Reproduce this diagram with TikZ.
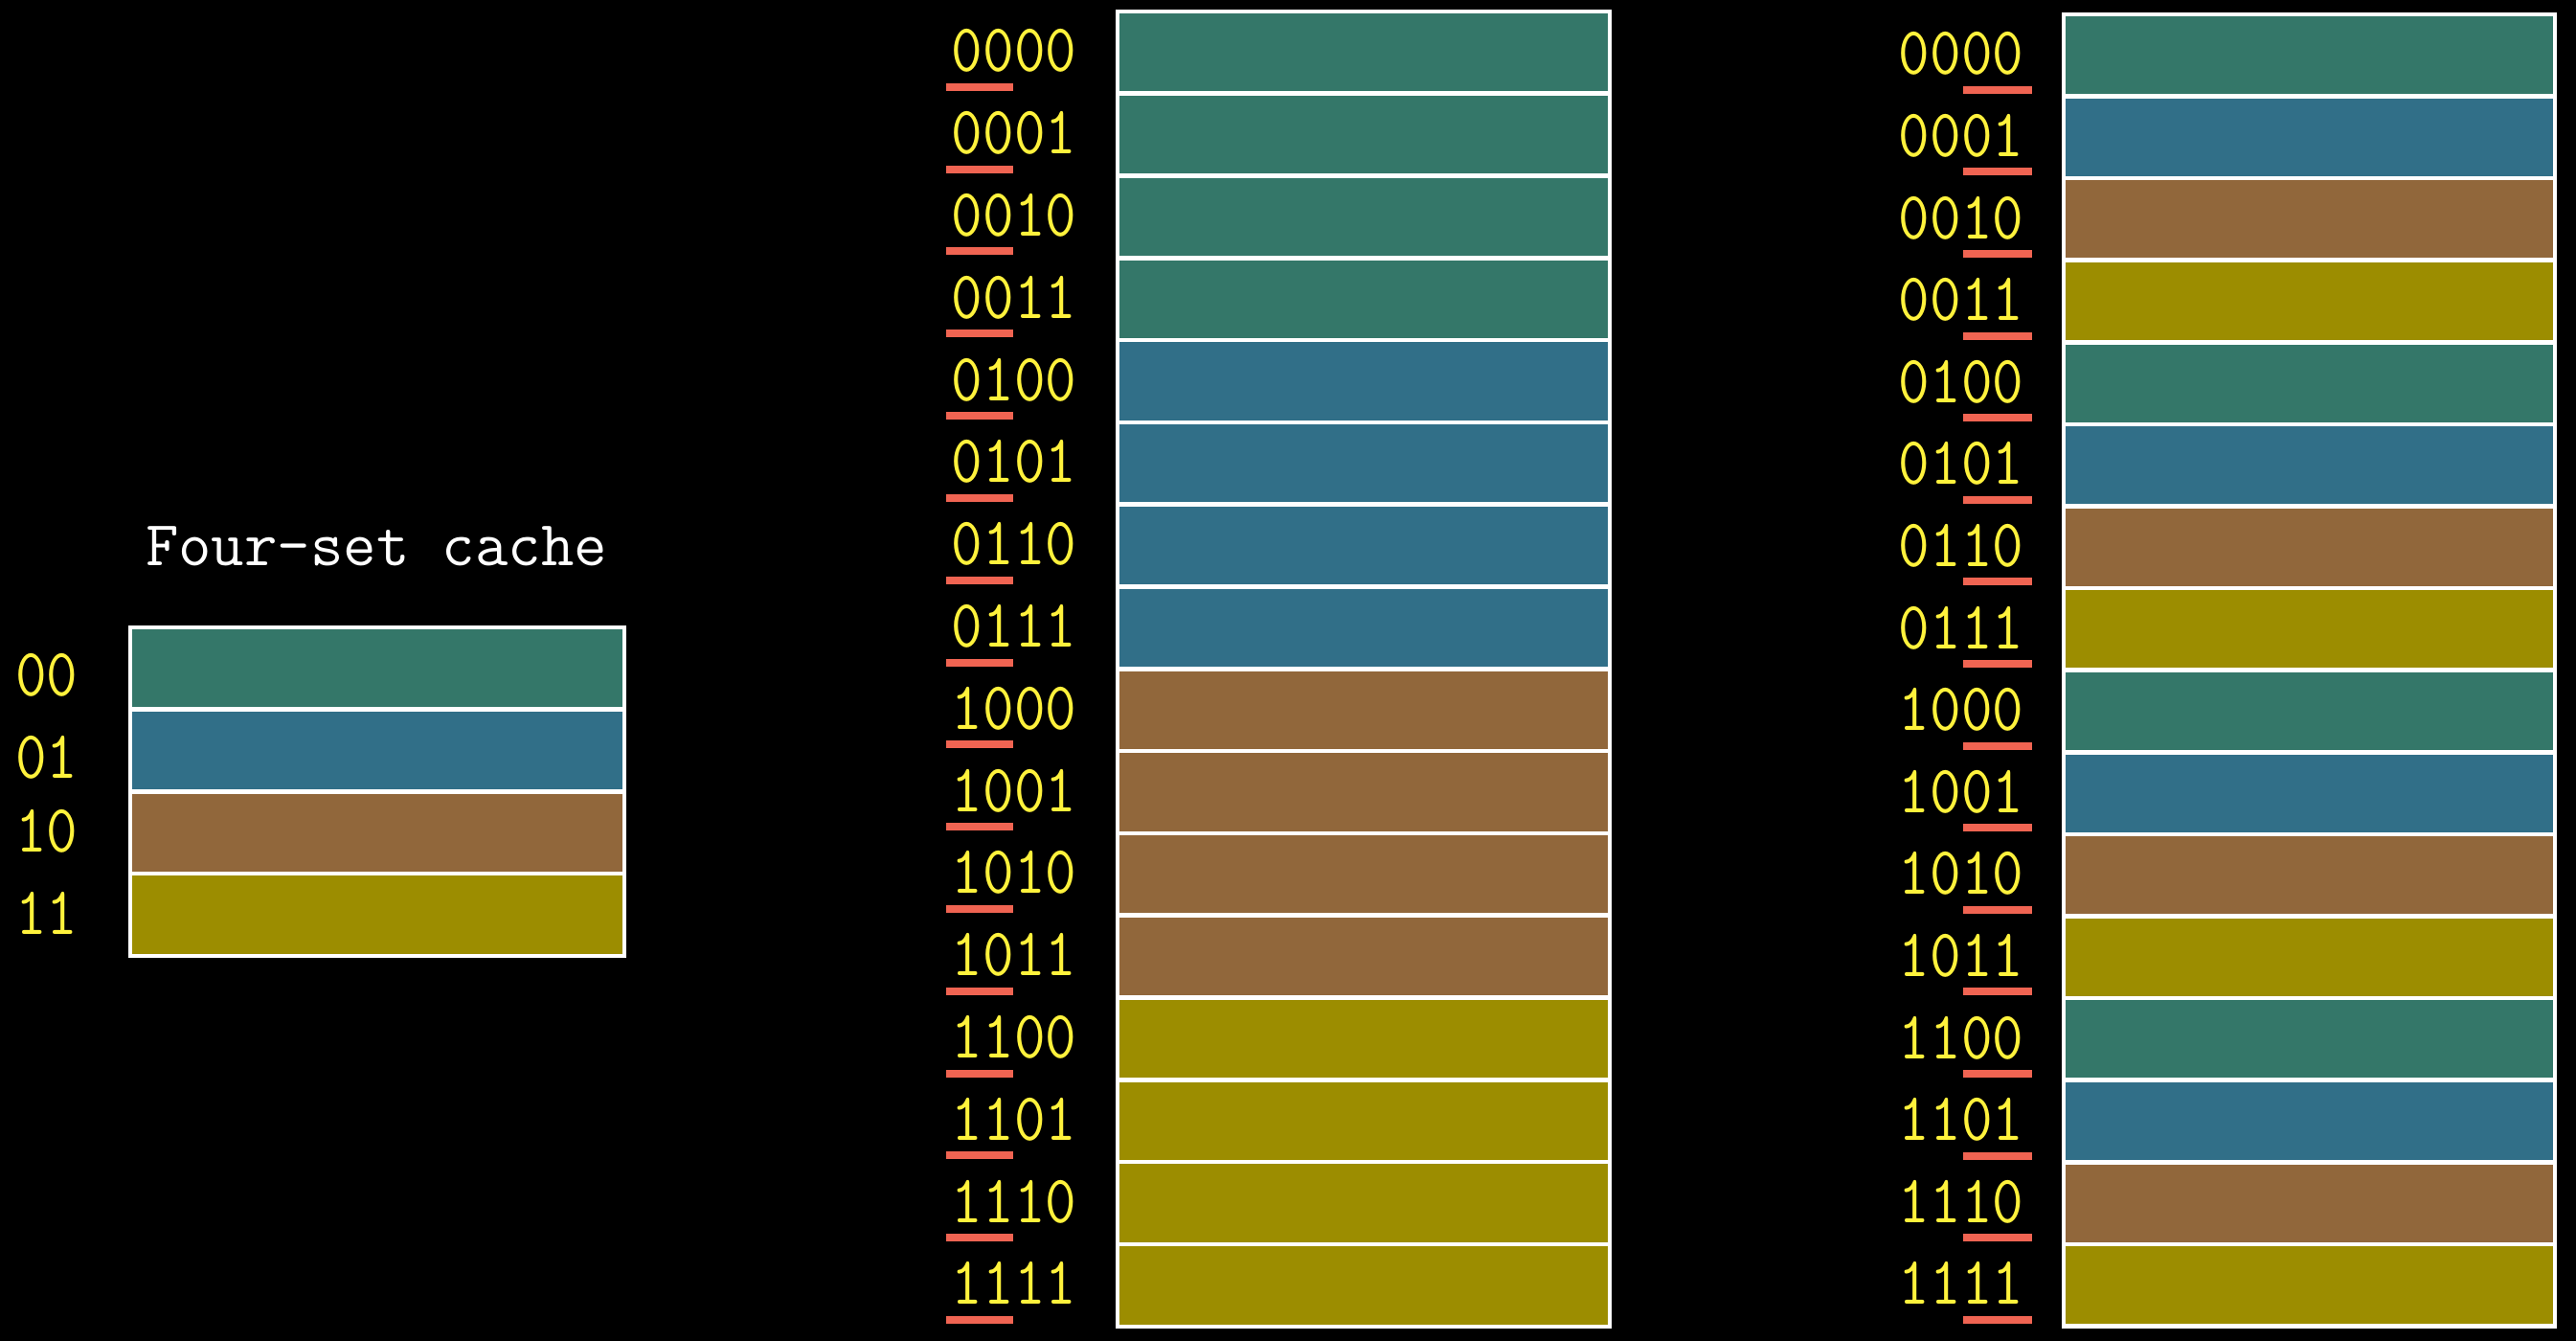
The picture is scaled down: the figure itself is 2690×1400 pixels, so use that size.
\documentclass[tikz,border=0pt]{standalone}
\usepackage{fontspec}
\usepackage{graphicx}
\usepackage{tikz}
\usetikzlibrary{positioning}
\definecolor{set0}{RGB}{52,119,105}
\definecolor{set1}{RGB}{49,111,136}
\definecolor{set2}{RGB}{145,103,59}
\definecolor{set3}{RGB}{156,141,0}
\definecolor{addryellow}{RGB}{255,242,60}
\definecolor{ulred}{RGB}{240,100,82}
\newcommand{\tallbits}[1]{\scalebox{1}[1.12]{#1}}
\tikzset{
  line/.style={rectangle, draw=white, line width=1.3pt, minimum width=5.14cm,
    minimum height=0.858cm, inner sep=0pt},
  addr/.style={font=\fontsize{18}{20}\selectfont\ttfamily, text=addryellow,
    inner sep=0pt, anchor=base},
  ttl/.style={font=\fontsize{19}{22}\selectfont\ttfamily, text=white,
    inner sep=0pt, anchor=base},
  ul/.style={fill=ulred}
}
\begin{document}
\begin{tikzpicture}[x=0.01cm, y=-0.01cm]
  \fill[black] (0,0) rectangle (2690,1400);
  % four-set cache
  \node[ttl] (title) at (393,590) {Four-set cache};
  \foreach \b/\dy [count=\j from 0] in {00/9,01/9,10/0,11/0} {
    \pgfmathsetmacro\yc{655+85.75*(\j+0.5)}
    \node[line, fill=set\j, minimum width=5.16cm] (c\j) at (394,\yc) {};
    \node[addr] (ca\j) at (49,\yc+20+\dy) {\tallbits{\b}};
  }
  % memory, sets by high bits
  \foreach \b [count=\i from 0] in {0000,0001,0010,0011,0100,0101,0110,0111,
      1000,1001,1010,1011,1100,1101,1110,1111} {
    \pgfmathtruncatemacro\s{int(\i/4)}
    \pgfmathsetmacro\yc{12+85.8*(\i+0.5)}
    \node[line, fill=set\s] (m\i) at (1424,\yc) {};
    \node[addr] (ma\i) at (1059,\yc+20) {\tallbits{\b}};
    \fill[ul] (988,\yc+32) rectangle (1058,\yc+40);
  }
  % memory, sets by low bits
  \foreach \b [count=\i from 0] in {0000,0001,0010,0011,0100,0101,0110,0111,
      1000,1001,1010,1011,1100,1101,1110,1111} {
    \pgfmathtruncatemacro\s{mod(\i,4)}
    \pgfmathsetmacro\yc{15+85.6*(\i+0.5)}
    \node[line, fill=set\s, minimum width=5.13cm] (r\i) at (2411.5,\yc) {};
    \node[addr] (ra\i) at (2048,\yc+20) {\tallbits{\b}};
    \fill[ul] (2050,\yc+32) rectangle (2122,\yc+40);
  }
\end{tikzpicture}
\end{document}
